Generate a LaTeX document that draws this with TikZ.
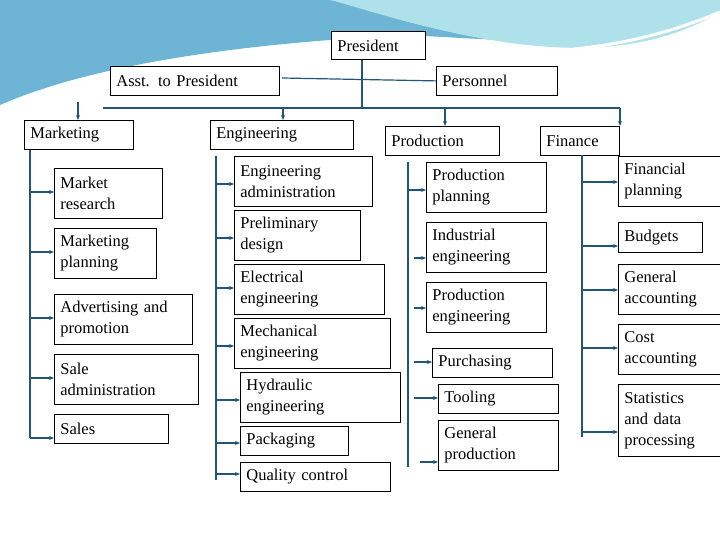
\documentclass[tikz,border=0pt]{standalone}
\usepackage{fontspec}
\setmainfont{Liberation Serif}
\usetikzlibrary{arrows.meta}
\begin{document}
\begin{tikzpicture}[x=1pt,y=-1pt,
  bx/.style={draw=black,line width=0.8pt,fill=white,inner xsep=6pt,inner ysep=0pt,align=left,font=\fontsize{16.5}{21}\selectfont,anchor=north west},
  ln/.style={draw=linecol,line width=1.2pt},
  ar/.style={ln,-{Stealth[length=5pt,width=4pt]}}]
\definecolor{linecol}{RGB}{35,85,120}
\definecolor{bgblue}{RGB}{110,180,212}
\definecolor{bgcyan}{RGB}{175,225,235}
\useasboundingbox (0,0) rectangle (720,540);
\fill[bgblue] (0,0) -- (720,0) -- (720,8) .. controls (560,70) and (420,20) .. (330,40) .. controls (200,50) and (80,70) .. (0,105) -- cycle;
\fill[bgcyan] (330,0) -- (720,0) -- (720,12) .. controls (640,60) and (540,55) .. (420,25) .. controls (380,15) and (350,5) .. (330,0) -- cycle;
\draw[white,line width=3pt] (0,110) .. controls (80,75) and (200,55) .. (330,45) .. controls (420,40) and (560,80) .. (720,12);
\newcommand{\bxn}[6]{\node[bx,minimum width={#4-#2},minimum height={#5-#3},text width={#4-#2-12}] (#1) at (#2,#3) {#6};}
% top
\bxn{pres}{331}{31}{425}{59}{President}
\bxn{asst}{110}{66}{279}{95}{Asst. to President}
\bxn{pers}{436}{66}{557}{95}{Personnel}
\bxn{mkt}{24}{120}{133}{149}{Marketing}
\bxn{eng}{210}{120}{353}{149}{Engineering}
\bxn{prod}{385}{126}{499}{155}{Production}
\bxn{fin}{540}{126}{619}{155}{Finance}
\coordinate (bl) at (103,108); \coordinate (br) at (620,108);
\coordinate (pm) at (362,108);
\coordinate (am) at (282,78);
\coordinate (m0) at (78,102);
\coordinate (e0) at (283,108);
\coordinate (p0) at (445,108);
\coordinate (mv) at (30,150);
\draw[ln] (pres.south -| pm) -- (pm);
\draw[ln] (am) -- (pers.west);
\draw[ln] (bl) -- (br);
\draw[ar] (m0) -- (m0 |- mkt.north);
\draw[ar] (e0) -- (e0 |- eng.north);
\draw[ar] (p0) -- (p0 |- prod.north);
\draw[ar] (br) -- (br |- fin.north);
% marketing
\bxn{m1}{54}{168}{162}{218}{Market\\research}
\bxn{m2}{54}{228}{156}{278}{Marketing\\planning}
\bxn{m3}{54}{294}{192}{344}{Advertising and\\promotion}
\bxn{m4}{54}{354}{198}{404}{Sale\\administration}
\node[bx,minimum width=114,minimum height=29,text width=102] (m5) at (54,414) {Sales};
\newcommand{\arr}[3]{\draw[ar] (#1,#2) -- (#3.west |- {(#1,#2)});}
\draw[ln] (mv) -- (30,438);
\arr{30}{192}{m1}\arr{30}{252}{m2}\arr{30}{318}{m3}\arr{30}{378}{m4}\arr{30}{438}{m5}
% engineering
\bxn{e1}{234}{156}{372}{206}{Engineering\\administration}
\bxn{e2}{234}{210}{360}{260}{Preliminary\\design}
\bxn{e3}{234}{264}{384}{314}{Electrical\\engineering}
\bxn{e4}{234}{318}{390}{368}{Mechanical\\engineering}
\bxn{e5}{240}{372}{400}{422}{Hydraulic\\engineering}
\bxn{e6}{240}{426}{348}{455}{Packaging}
\bxn{e7}{240}{462}{390}{491}{Quality control}
\draw[ln] (216,156) -- (216,480);
\arr{216}{184}{e1}\arr{216}{238}{e2}\arr{216}{288}{e3}\arr{216}{346}{e4}\arr{216}{400}{e5}\arr{216}{443}{e6}\arr{216}{474}{e7}
% production
\bxn{p1}{426}{162}{546}{212}{Production\\planning}
\bxn{p2}{426}{222}{546}{272}{Industrial\\engineering}
\bxn{p3}{426}{282}{546}{332}{Production\\engineering}
\bxn{p4}{432}{348}{552}{377}{Purchasing}
\bxn{p5}{438}{384}{558}{413}{Tooling}
\bxn{p6}{438}{420}{558}{470}{General\\production}
\draw[ln] (408,162) -- (408,467);
\arr{408}{190}{p1}\arr{414}{258}{p2}\arr{414}{308}{p3}\arr{414}{362}{p4}\arr{414}{398}{p5}\arr{420}{462}{p6}
% finance
\bxn{f1}{618}{156}{724}{206}{Financial\\planning}
\bxn{f2}{618}{222}{702}{252}{Budgets}
\bxn{f3}{618}{264}{724}{314}{General\\accounting}
\bxn{f4}{618}{324}{724}{374}{Cost\\accounting}
\bxn{f5}{618}{384}{724}{456}{Statistics\\and data\\processing}
\draw[ln] (582,155) -- (582,437);
\arr{582}{182}{f1}\arr{582}{246}{f2}\arr{582}{290}{f3}\arr{582}{348}{f4}\arr{582}{432}{f5}
\end{tikzpicture}
\end{document}
